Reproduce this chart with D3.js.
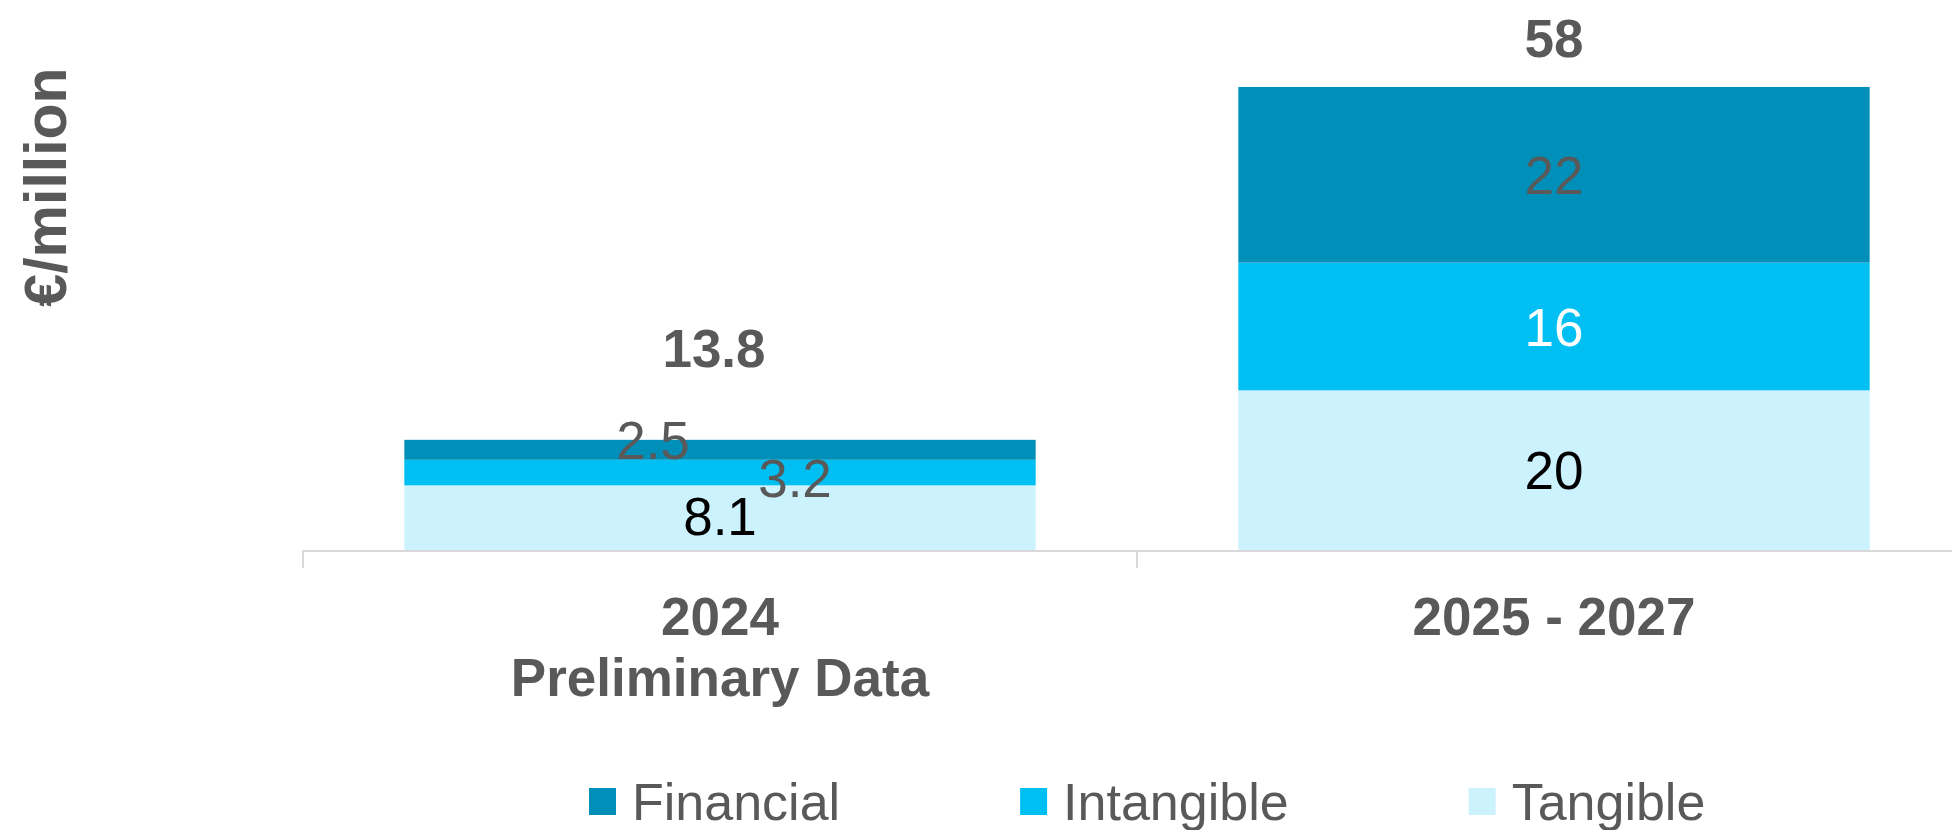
<!DOCTYPE html>
<html>
<head>
<meta charset="utf-8">
<script src="https://cdn.jsdelivr.net/npm/d3@7"></script>
<style>
  body { margin: 0; background: #fff; }
  text { font-family: "Liberation Sans", Arial, sans-serif; }
</style>
</head>
<body>
<svg id="chart"></svg>
<script>
// data
const categories = ['2024|Preliminary Data', '2025 - 2027'];
const series = ['Tangible', 'Intangible', 'Financial'];
const tangible = [8.1, 20];
const intangible = [3.2, 16];
const financial = [2.5, 22];
const totals = [13.8, 58];
const legend_order = ['Financial', 'Intangible', 'Tangible'];

const width = 1952, height = 830;
const colors = { Tangible: '#ccf2fd', Intangible: '#00c0f3', Financial: '#008fb8' };
const label_colors = { Tangible: '#000000', Intangible: ['#595959', '#ffffff'], Financial: '#595959' };
const grey = '#595959';

const svg = d3.select('#chart').attr('width', width).attr('height', height);

const x = d3.scaleBand()
    .domain(categories)
    .range([303, 1971])
    .paddingInner(0.243)
    .paddingOuter(0.1215);

const y = d3.scaleLinear()
    .domain([0, 60])
    .range([550, 71]);

const rows = categories.map((c, i) => ({
    cat: c,
    Tangible: tangible[i],
    Intangible: intangible[i],
    Financial: financial[i]
}));
const stacked = d3.stack().keys(series)(rows);

// bars
stacked.forEach(layer => {
    svg.append('g').selectAll('rect')
        .data(layer)
        .enter()
        .append('rect')
        .attr('x', d => x(d.data.cat))
        .attr('width', x.bandwidth())
        .attr('y', d => y(d[1]))
        .attr('height', d => y(d[0]) - y(d[1]))
        .attr('fill', colors[layer.key]);
});

// axis line + boundary ticks
const axis = svg.append('g');
const r = x.range();
axis.append('line')
    .attr('x1', r[0]).attr('x2', r[1])
    .attr('y1', y(0) + 1).attr('y2', y(0) + 1)
    .attr('stroke', '#d9d9d9').attr('stroke-width', 2);
d3.range(categories.length + 1).forEach(i => {
    const tx = r[0] + i * x.step();
    axis.append('line')
        .attr('x1', tx).attr('x2', tx)
        .attr('y1', y(0)).attr('y2', y(0) + 18)
        .attr('stroke', '#d9d9d9').attr('stroke-width', 2);
});

// category labels
categories.forEach(c => {
    const t = svg.append('text')
        .attr('text-anchor', 'middle')
        .attr('fill', grey)
        .style('font-size', '53px')
        .style('font-weight', 'bold');
    c.split('|').forEach((line, j) => {
        t.append('tspan')
            .attr('x', x(c) + x.bandwidth() / 2)
            .attr('y', 635 + j * 61)
            .text(line);
    });
});

// segment labels (Excel-style nudges for the small 2024 segments)
const nudge = {
    Tangible: [[0, -2], [0, 0]],
    Intangible: [[75, 5], [0, 0]],
    Financial: [[-67, -10], [0, 0]]
};
stacked.forEach(layer => {
    svg.append('g').selectAll('text')
        .data(layer)
        .enter()
        .append('text')
        .attr('text-anchor', 'middle')
        .attr('x', (d, i) => x(d.data.cat) + x.bandwidth() / 2 + nudge[layer.key][i][0])
        .attr('y', (d, i) => (y(d[0]) + y(d[1])) / 2 + nudge[layer.key][i][1])
        .attr('dy', '0.36em')
        .attr('fill', (d, i) => {
            const c = label_colors[layer.key];
            return Array.isArray(c) ? c[i] : c;
        })
        .style('font-size', '53px')
        .text(d => d.data[layer.key]);
});

// totals
const total_gap = [73, 30];
const total_shift = [-6, 0];
svg.append('g').selectAll('text')
    .data(totals)
    .enter()
    .append('text')
    .attr('text-anchor', 'middle')
    .attr('x', (d, i) => x(categories[i]) + x.bandwidth() / 2 + total_shift[i])
    .attr('y', (d, i) => y(d) - total_gap[i])
    .attr('fill', grey)
    .style('font-size', '53px')
    .style('font-weight', 'bold')
    .text(d => d);

// y axis title
svg.append('text')
    .attr('transform', 'translate(66,187) rotate(-90)')
    .attr('text-anchor', 'middle')
    .attr('fill', grey)
    .style('font-size', '59px')
    .style('font-weight', 'bold')
    .text('€/million');

// legend
const legend = svg.append('g');
let lx = 589;
legend_order.forEach(name => {
    legend.append('rect')
        .attr('x', lx).attr('y', 788)
        .attr('width', 27).attr('height', 27)
        .attr('fill', colors[name]);
    const t = legend.append('text')
        .attr('x', lx + 43).attr('y', 820)
        .attr('fill', grey)
        .style('font-size', '52px')
        .text(name);
    lx += 43 + t.node().getComputedTextLength() + 180;
});
</script>
</body>
</html>
